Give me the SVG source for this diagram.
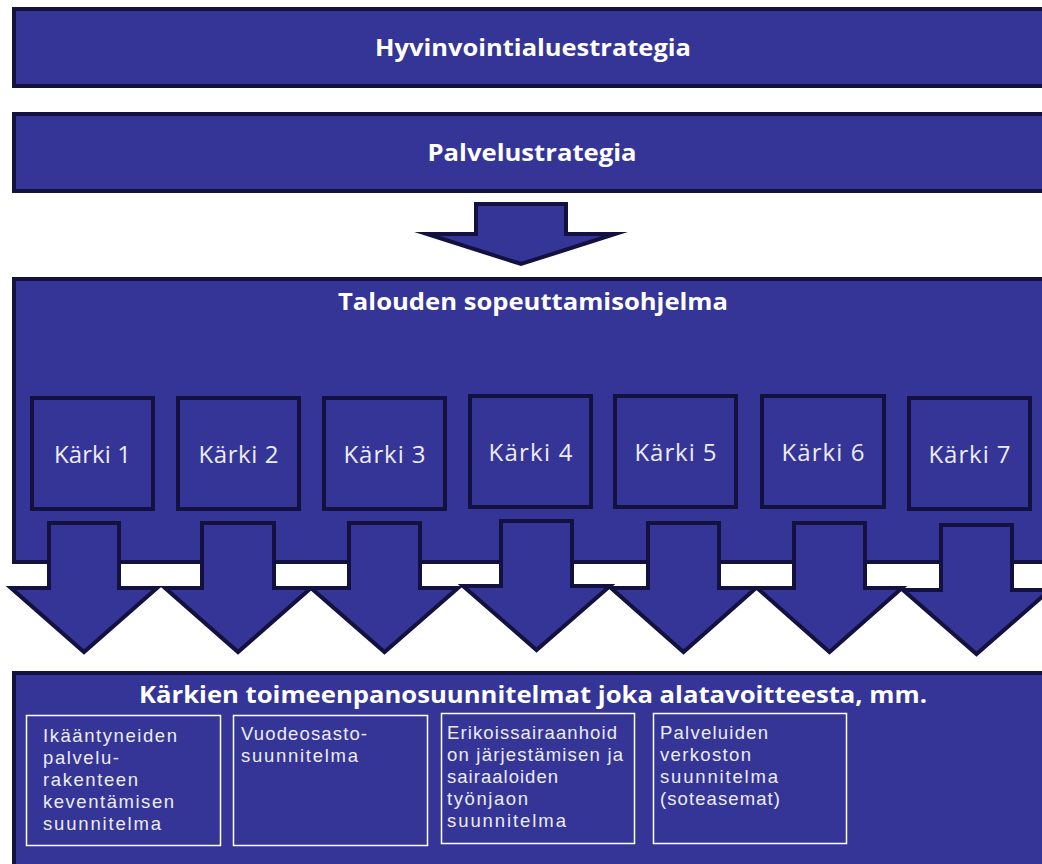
<svg xmlns="http://www.w3.org/2000/svg" width="1042" height="864" viewBox="0 0 1042 864">
<style>
.bar{fill:#353598;stroke:#12113f;stroke-width:4;stroke-linejoin:miter}
.kb{fill:#353598;stroke:#12113f;stroke-width:4}
.ar{fill:#353598;stroke:#12113f;stroke-width:4;stroke-linejoin:miter;stroke-miterlimit:10}
.wb{fill:#353598;stroke:#ffffff;stroke-width:1.5}
.title{font-family:"Open Sans","Liberation Sans",sans-serif;font-weight:700;font-size:23.5px;fill:#ffffff;text-anchor:middle}
.kt{font-family:"Open Sans","Liberation Sans",sans-serif;font-weight:400;font-size:24px;fill:#ececf6;text-anchor:middle}
.bt{font-family:"Liberation Sans",Arial,sans-serif;font-weight:400;font-size:18.5px;fill:#ececf6}
</style>
<rect width="1042" height="864" fill="#ffffff"/>
<g id="hyvinvointialuestrategia">
<rect class="bar" x="14" y="9" width="1040" height="77"/>
<text class="title" x="533" y="56" textLength="316" lengthAdjust="spacingAndGlyphs">Hyvinvointialuestrategia</text>
</g>
<g id="palvelustrategia">
<rect class="bar" x="14" y="114" width="1040" height="77"/>
<text class="title" x="532" y="161" textLength="209" lengthAdjust="spacingAndGlyphs">Palvelustrategia</text>
</g>
<g id="talouden">
<rect class="bar" x="14" y="279" width="1040" height="283"/>
<text class="title" x="533" y="310" textLength="390" lengthAdjust="spacingAndGlyphs">Talouden sopeuttamisohjelma</text>
</g>
<g id="karki1"><rect class="kb" x="32" y="398" width="121" height="111"/><text class="kt" x="92.5" y="463" textLength="77">Kärki 1</text></g>
<g id="karki2"><rect class="kb" x="178" y="398" width="121" height="111"/><text class="kt" x="238.5" y="463" textLength="80">Kärki 2</text></g>
<g id="karki3"><rect class="kb" x="324" y="398" width="121" height="111"/><text class="kt" x="384.5" y="463" textLength="82">Kärki 3</text></g>
<g id="karki4"><rect class="kb" x="470" y="396" width="121" height="111"/><text class="kt" x="530.5" y="461" textLength="84">Kärki 4</text></g>
<g id="karki5"><rect class="kb" x="615" y="396" width="121" height="111"/><text class="kt" x="675.5" y="461" textLength="82">Kärki 5</text></g>
<g id="karki6"><rect class="kb" x="762" y="396" width="122" height="111"/><text class="kt" x="823" y="461" textLength="83">Kärki 6</text></g>
<g id="karki7"><rect class="kb" x="909" y="398" width="121" height="111"/><text class="kt" x="969.5" y="463" textLength="82">Kärki 7</text></g>
<g id="connectors">
<polygon class="ar" points="476,204 566,204 566,234 615,234 521,264 427,234 476,234"/>
<polygon class="ar" points="49,523 119,523 119,588 157,588 84,652 11,588 49,588"/>
<polygon class="ar" points="202,523 274,523 274,588 311,588 238,652 165,588 202,588"/>
<polygon class="ar" points="349,523 420,523 420,588 458,588 384.5,652 311,588 349,588"/>
<polygon class="ar" points="501,521 572,521 572,586 610,586 536.5,650 463,586 501,586"/>
<polygon class="ar" points="648,523 719,523 719,588 756,588 683.5,652 611,588 648,588"/>
<polygon class="ar" points="794,523 865,523 865,588 902,588 829.5,652 757,588 794,588"/>
<polygon class="ar" points="941,525 1012,525 1012,590 1050,590 976.5,654 903,590 941,590"/>
</g>
<g id="toimeenpano">
<rect class="bar" x="14" y="673" width="1040" height="200"/>
<text class="title" x="533" y="703" textLength="788" lengthAdjust="spacingAndGlyphs">Kärkien toimeenpanosuunnitelmat joka alatavoitteesta, mm.</text>
</g>
<g id="ikaantyneiden">
<rect class="wb" x="26.5" y="715.5" width="194" height="130"/>
<text class="bt" x="43" y="742" textLength="134">Ikääntyneiden</text>
<text class="bt" x="43" y="764" textLength="76">palvelu-</text>
<text class="bt" x="43" y="786" textLength="95">rakenteen</text>
<text class="bt" x="43" y="808" textLength="131">keventämisen</text>
<text class="bt" x="43" y="830" textLength="118">suunnitelma</text>
</g>
<g id="vuodeosasto">
<rect class="wb" x="233.5" y="715.5" width="194" height="130"/>
<text class="bt" x="241" y="740" textLength="126">Vuodeosasto-</text>
<text class="bt" x="241" y="762" textLength="117">suunnitelma</text>
</g>
<g id="erikoissairaanhoito">
<rect class="wb" x="441.5" y="713.5" width="193" height="130"/>
<text class="bt" x="447" y="739" textLength="170">Erikoissairaanhoid</text>
<text class="bt" x="447" y="761" textLength="176">on järjestämisen ja</text>
<text class="bt" x="447" y="783" textLength="111">sairaaloiden</text>
<text class="bt" x="447" y="805" textLength="81">työnjaon</text>
<text class="bt" x="447" y="827" textLength="119">suunnitelma</text>
</g>
<g id="palveluverkosto">
<rect class="wb" x="653.5" y="713.5" width="193" height="130"/>
<text class="bt" x="660" y="739" textLength="108">Palveluiden</text>
<text class="bt" x="660" y="761" textLength="91">verkoston</text>
<text class="bt" x="660" y="783" textLength="118">suunnitelma</text>
<text class="bt" x="660" y="805" textLength="120">(soteasemat)</text>
</g>
</svg>
